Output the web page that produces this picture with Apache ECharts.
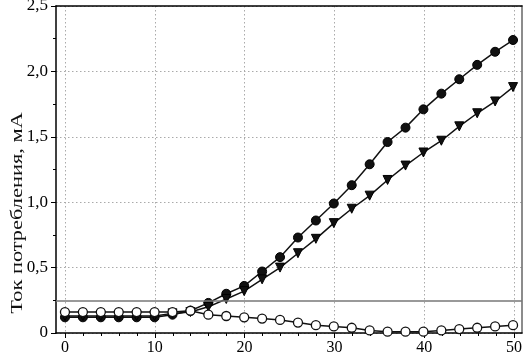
<!DOCTYPE html>
<html>
<head>
<meta charset="utf-8">
<script src="https://cdn.jsdelivr.net/npm/echarts@6/dist/echarts.min.js"></script>
<style>
html,body{margin:0;padding:0;background:#fff;}
#c{width:525px;height:357px;}
</style>
</head>
<body>
<div id="c"></div>
<script>
const xValues = [0,2,4,6,8,10,12,14,16,18,20,22,24,26,28,30,32,34,36,38,40,42,44,46,48,50];
const filledCircles = [0.12,0.12,0.12,0.12,0.12,0.12,0.14,0.17,0.23,0.30,0.36,0.47,0.58,0.73,0.86,0.99,1.13,1.29,1.46,1.57,1.71,1.83,1.94,2.05,2.15,2.24];
const triangles = [0.13,0.13,0.13,0.13,0.13,0.13,0.15,0.16,0.20,0.26,0.32,0.41,0.50,0.61,0.72,0.84,0.95,1.05,1.17,1.28,1.38,1.47,1.58,1.68,1.77,1.88];
const openCircles = [0.16,0.16,0.16,0.16,0.16,0.16,0.16,0.17,0.14,0.13,0.12,0.11,0.10,0.08,0.06,0.05,0.04,0.02,0.01,0.01,0.01,0.02,0.03,0.04,0.05,0.06];
const thresholdValue = 0.25;
const yTickLabels = ['0','0,5','1,0','1,5','2,0','2,5'];
const xTickLabels = ['0','10','20','30','40','50'];
const yAxisName = 'Ток потребления, мА';

const FONT = "'Liberation Serif', 'Times New Roman', Times, serif";
const pairs = arr => xValues.map((x, i) => [x, arr[i]]);
const dotted = {color: '#aaaaaa', width: 1, type: [1.5, 2.5]};

const chart = echarts.init(document.getElementById('c'), null, {renderer: 'canvas'});
chart.setOption({
  backgroundColor: '#ffffff',
  animation: false,
  textStyle: {fontFamily: FONT},
  grid: [
    {left: 56, right: 3, top: 6, bottom: 24, containLabel: false, outerBoundsMode: 'none'},
    {left: 65, right: 11, top: 6, bottom: 24, containLabel: false, outerBoundsMode: 'none'}
  ],
  graphic: [
    {type: 'text', x: 18, y: 213, rotation: Math.PI / 2, scaleX: 1.4, scaleY: 1,
      silent: true,
      style: {text: yAxisName, fill: '#111', font: "16px 'Liberation Serif', 'Times New Roman', serif",
        align: 'center', verticalAlign: 'middle'}}
  ],
  xAxis: [
    {gridIndex: 0, type: 'value', min: -1, max: 51, position: 'bottom',
      axisLine: {show: true, onZero: false, lineStyle: {color: '#000', width: 1.5}},
      axisTick: {show: false}, axisLabel: {show: false}, splitLine: {show: false}},
    {gridIndex: 0, type: 'value', min: -1, max: 51, position: 'top',
      axisLine: {show: true, onZero: false, lineStyle: {color: '#000', width: 1.5}},
      axisTick: {show: false}, axisLabel: {show: false}, splitLine: {show: false}},
    {gridIndex: 1, type: 'value', min: 0, max: 50, interval: 10, position: 'bottom',
      axisLine: {show: false, onZero: false},
      axisTick: {show: true, length: 5, lineStyle: {color: '#000', width: 1}},
      minorTick: {show: true, splitNumber: 5, length: 3, lineStyle: {color: '#000', width: 1}},
      axisLabel: {show: true, margin: 7, color: '#000', fontFamily: FONT, fontSize: 16,
        formatter: (v, i) => xTickLabels[i]},
      splitLine: {show: true, lineStyle: dotted}}
  ],
  yAxis: [
    {gridIndex: 0, type: 'value', min: 0, max: 2.5, interval: 0.5, position: 'left',
      axisLine: {show: true, onZero: false, lineStyle: {color: '#000', width: 1.5}},
      axisTick: {show: true, length: 5, lineStyle: {color: '#000', width: 1}},
      minorTick: {show: true, splitNumber: 2, length: 3, lineStyle: {color: '#000', width: 1}},
      axisLabel: {show: true, margin: 8, color: '#000', fontFamily: FONT, fontSize: 17,
        formatter: (v, i) => yTickLabels[i]},
      splitLine: {show: true, lineStyle: dotted}},
    {gridIndex: 0, type: 'value', min: 0, max: 2.5, position: 'right',
      axisLine: {show: true, onZero: false, lineStyle: {color: '#666', width: 1.5}},
      axisTick: {show: false}, axisLabel: {show: false}, splitLine: {show: false}},
    {gridIndex: 1, type: 'value', min: 0, max: 2.5, show: false}
  ],
  series: [
    {type: 'line', xAxisIndex: 0, yAxisIndex: 0, data: [], silent: true,
      markLine: {silent: true, symbol: 'none', label: {show: false},
        lineStyle: {color: '#777', width: 1.5, type: 'solid'},
        data: [{yAxis: thresholdValue}]}},
    {type: 'line', xAxisIndex: 0, yAxisIndex: 0, data: pairs(filledCircles), clip: false,
      symbol: 'circle', symbolSize: 9, showAllSymbol: true,
      lineStyle: {color: '#111', width: 1.5},
      itemStyle: {color: '#111', borderColor: '#000', borderWidth: 1}},
    {type: 'line', xAxisIndex: 0, yAxisIndex: 0, data: pairs(triangles), clip: false,
      symbol: 'triangle', symbolRotate: 180, symbolSize: 9, showAllSymbol: true,
      lineStyle: {color: '#111', width: 1.5},
      itemStyle: {color: '#111', borderColor: '#000', borderWidth: 1}},
    {type: 'line', xAxisIndex: 0, yAxisIndex: 0, data: pairs(openCircles), clip: false,
      symbol: 'circle', symbolSize: 9, showAllSymbol: true,
      lineStyle: {color: '#111', width: 1.5},
      itemStyle: {color: '#fff', borderColor: '#111', borderWidth: 1.3}}
  ]
});
</script>
</body>
</html>
